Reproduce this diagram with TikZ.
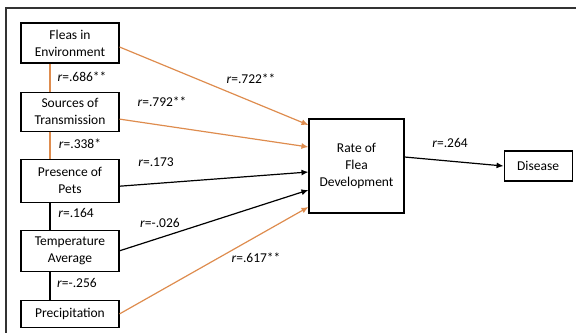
\documentclass[tikz,border=0pt]{standalone}
\usepackage{fontspec}
\setmainfont{Carlito}
\usetikzlibrary{arrows.meta,positioning}
\definecolor{LinkOrange}{RGB}{222,140,78}
\tikzset{
  factor/.style={draw=black, line width=1.1pt, fill=white, minimum width=98pt,
    align=center, inner sep=2pt, font=\fontsize{13.5}{17}\selectfont},
  corr/.style={font=\fontsize{13.5}{16}\selectfont, inner sep=1pt},
  link/.style={line width=1.2pt, black},
  sig/.style={line width=1.2pt, LinkOrange},
  arrow/.style={-{Latex[length=7pt,width=6pt]}}
}
\newcommand{\rval}[1]{\textit{r}=#1}

\begin{document}
\begin{tikzpicture}[x=1pt,y=-1pt]
  \useasboundingbox (0,0) rectangle (576,333);
  % frame
  \draw[line width=1.2pt, black!80] (576,8) -- (6,8) -- (6,333);

  % predictors
  \node[factor, minimum height=40pt] (fleas) at (70,43) {Fleas in\\Environment};
  \node[factor, minimum height=39pt, below=28pt of fleas] (sources) {Sources of\\Transmission};
  \node[factor, minimum height=43pt, below=27pt of sources] (pets) {Presence of\\Pets};
  \node[factor, minimum height=41pt, below=27pt of pets] (temp) {Temperature\\Average};
  \node[factor, minimum height=27pt, below=28pt of temp] (precip) {Precipitation};

  % outcome
  \node[factor, minimum width=95pt, minimum height=94pt] (rate) at (356.5,166) {Rate of\\Flea\\Development};
  \node[factor, minimum width=68pt, minimum height=30pt, right=99pt of rate] (disease) {Disease};

  % links between predictors
  \draw[sig] ([xshift=-20pt]fleas.south) -- ([xshift=-20pt]sources.north);
  \draw[sig] ([xshift=-20pt]sources.south) -- ([xshift=-20pt]pets.north);
  \draw[link] ([xshift=-20pt]pets.south) -- ([xshift=-20pt]temp.north);
  \draw[link] ([xshift=-20pt]temp.south) -- ([xshift=-20pt]precip.north);

  % paths to rate
  \draw[sig, arrow] ([yshift=-4pt]fleas.east) -- ([yshift=41pt]rate.west);
  \draw[sig, arrow] ([yshift=-7.5pt]sources.east) -- ([yshift=19pt]rate.west);
  \draw[link, arrow] ([yshift=-5.5pt]pets.east) -- ([yshift=-6pt]rate.west);
  \draw[link, arrow] (temp.east) -- ([yshift=-24pt]rate.west);
  \draw[sig, arrow] (precip.east) -- ([yshift=-41pt]rate.west);
  \draw[link, arrow] ([yshift=9pt]rate.east) -- (disease.west);

  % correlations
  \node[corr] (r1) at (82,77) {\rval{.686**}};
  \node[corr] (r2) at (251,79) {\rval{.722**}};
  \node[corr] (r3) at (162,102) {\rval{.792**}};
  \node[corr] (r4) at (80,144) {\rval{.338*}};
  \node[corr] (r5) at (156,162) {\rval{.173}};
  \node[corr] (r6) at (76,213) {\rval{.164}};
  \node[corr] (r7) at (160,223) {\rval{-.026}};
  \node[corr] (r8) at (256,258) {\rval{.617**}};
  \node[corr] (r9) at (77,283) {\rval{-.256}};
  \node[corr] (r10) at (450,143) {\rval{.264}};
\end{tikzpicture}
\end{document}
